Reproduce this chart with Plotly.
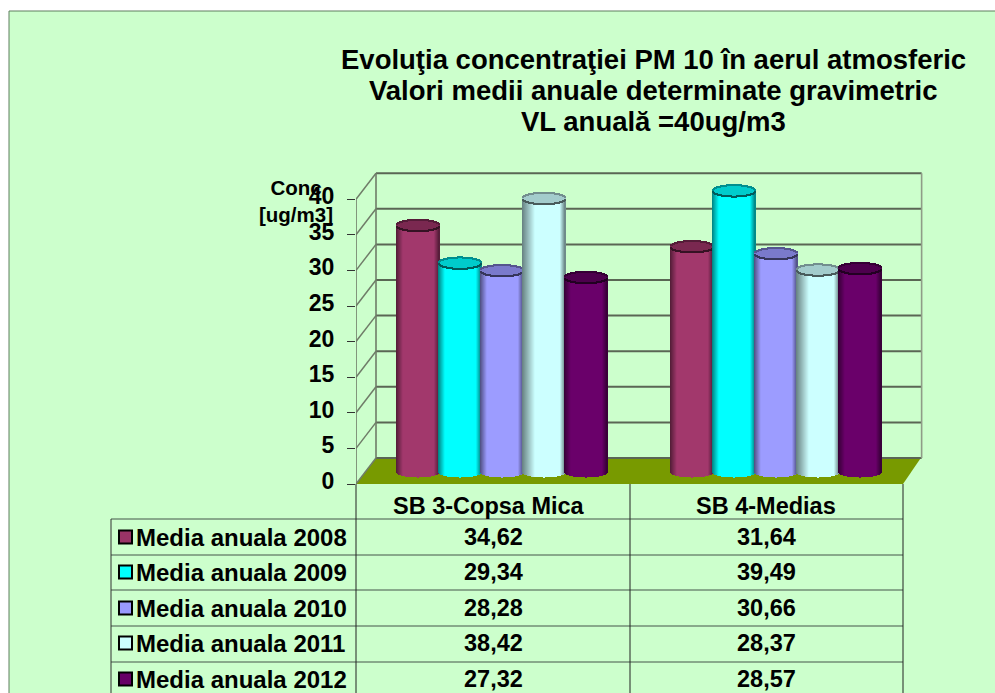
import math
import plotly.graph_objects as go

W, H = 995, 693
categories = ["SB 3-Copsa Mica", "SB 4-Medias"]
series_names = ["Media anuala 2008", "Media anuala 2009", "Media anuala 2010", "Media anuala 2011", "Media anuala 2012"]
v2008 = [34.62, 31.64]
v2009 = [29.34, 39.49]
v2010 = [28.28, 30.66]
v2011 = [38.42, 28.37]
v2012 = [27.32, 28.57]
series_values = [v2008, v2009, v2010, v2011, v2012]
body_colors = ["#993366", "#00FFFF", "#9999FF", "#CCFFFF", "#660066"]
lit_colors = ["#A2386C", "#00FFFF", "#9C9CFF", "#CCFFFF", "#6A006A"]
cap_colors = ["#7A2850", "#00CCCC", "#7A7ACC", "#A3CCCC", "#4D004D"]
y_ticks = [0, 5, 10, 15, 20, 25, 30, 35, 40]
title_lines = ["Evoluţia concentraţiei PM 10 în aerul atmosferic", "Valori medii anuale determinate gravimetric", "VL anuală =40ug/m3"]
FONT = "Liberation Sans"

# scales: pixels per data unit
XS, YS = 273.5, 7.12
PX0, PY0, PX1, PY1 = 356, 484, 932, 165
DX_BACK, DY_BACK = 20 / XS, 26 / YS
DX_MID, DY_MID = 9.5 / XS, 12 / YS
N_STRIPS = 43
HALF_W = 21.5 / XS
STEP = 42 / XS
ELL = 5.5 / YS
RIGHT = 2.0


def shade(hex_color, f):
    r, g, b = (int(hex_color[i:i + 2], 16) for i in (1, 3, 5))
    return f"rgb({int(r * f)},{int(g * f)},{int(b * f)})"


def factor(t, left):
    return min(0.5 + 0.5 * min(1, t / left), 0.5 + 0.5 * min(1, (1 - t) / 0.12))


fig = go.Figure()
for s, (name, vals) in enumerate(zip(series_names, series_values)):
    left = 0.3 if s == 3 else 0.16
    xs, bases, hs, cols, ws = [], [], [], [], []
    rim_xs, rim_bases, rim_hs, rim_cols, rim_ws = [], [], [], [], []
    cap_xs, cap_bases, cap_hs, cap_cols, cap_ws = [], [], [], [], []
    for c, v in enumerate(vals):
        center = c + 0.5 + DX_MID + (s - 2) * STEP
        for i in range(N_STRIPS):
            t = (i + 0.5) / N_STRIPS
            u = 2 * t - 1
            e = ELL * math.sqrt(1 - u * u)
            x = center + u * HALF_W
            b = DY_MID - e
            w = 1.4 / XS
            xs.append(x); bases.append(b); hs.append(v); cols.append(shade(lit_colors[s], factor(t, left))); ws.append(w)
            cap_xs.append(x); cap_bases.append(DY_MID + v - e); cap_hs.append(2 * e)
            cap_cols.append(cap_colors[s]); cap_ws.append(w)
            rim_xs += [x, x]
            rim_bases += [DY_MID + v - e - 0.1, DY_MID + v + e - 0.05]
            rim_hs += [0.2, 0.15]
            rim_cols += [shade(cap_colors[s], 0.45), shade(cap_colors[s], 0.7)]
            rim_ws += [w, w]
    fig.add_trace(go.Bar(
        name=name,
        x=xs + cap_xs + rim_xs, y=hs + cap_hs + rim_hs, base=bases + cap_bases + rim_bases,
        width=ws + cap_ws + rim_ws,
        marker=dict(color=cols + cap_cols + rim_cols, line=dict(width=0)),
        hoverinfo="skip", showlegend=False,
    ))

# walls and floor, built from the axis ticks and the depth offsets
shapes = []
WALL = "#5A6654"
WALL2 = "#6F7C68"
TOP = y_ticks[-1]


def seg(x0, y0, x1, y1, color=WALL, width=2):
    shapes.append(dict(type="line", xref="x", yref="y", x0=x0, y0=y0, x1=x1, y1=y1,
                       line=dict(color=color, width=width), layer="below"))


shapes.append(dict(type="path", xref="x", yref="y", layer="below",
                   path=f"M0,0 L{DX_BACK},{DY_BACK} L{RIGHT + DX_BACK - 0.008},{DY_BACK} L{RIGHT},0 Z",
                   fillcolor="#789A00", line=dict(width=0)))
for t in y_ticks:
    seg(DX_BACK, t + DY_BACK, RIGHT + DX_BACK - 0.005, t + DY_BACK)
    seg(0, t, DX_BACK, t + DY_BACK, WALL2, 1.5)
seg(0, 0, 0, TOP, WALL2, 1.6)
seg(DX_BACK, DY_BACK, DX_BACK, TOP + DY_BACK, WALL2, 1.6)
seg(RIGHT + DX_BACK - 0.005, DY_BACK, RIGHT + DX_BACK - 0.005, TOP + DY_BACK, "#8F9C88", 1.6)


def px(x):
    return x / W


def py(y):
    return 1 - y / H


def pline(x0, y0, x1, y1, color="#000000", width=1):
    shapes.append(dict(type="line", xref="paper", yref="paper", x0=px(x0), y0=py(y0), x1=px(x1), y1=py(y1),
                       line=dict(color=color, width=width), layer="below"))


# chart background frame
shapes.insert(0, dict(type="rect", xref="paper", yref="paper", x0=px(9), y0=py(H + 5), x1=px(W + 5), y1=py(11),
                      fillcolor="#CCFFCC", line=dict(color="#5F7F5F", width=1), layer="below"))

# data table under the plot
row_lines = [519, 555, 590, 626, 662]
row_centers = [537, 572, 608, 643, 679]
col_lines = [111, 356, 630, 903]
col_centers = [493, 766]
header_centers = [489, 766]
for y in row_lines:
    pline(col_lines[0], y, col_lines[-1], y, "#44554A", 1)
pline(col_lines[0], row_lines[0], col_lines[0], H, "#333333", 1)
for x in col_lines[1:]:
    pline(x, 484, x, H, "#222222", 1)

ann = []
for line, yc in zip(title_lines, [60, 91, 122]):
    ann.append(dict(xref="paper", yref="paper", x=px(653), y=py(yc), text=f"<b>{line}</b>", showarrow=False,
                    xanchor="center", yanchor="middle", font=dict(family=FONT, size=27.5, color="#000")))
for cname, x in zip(categories, header_centers):
    ann.append(dict(xref="paper", yref="paper", x=px(x), y=py(506), text=f"<b>{cname}</b>", showarrow=False,
                    xanchor="center", yanchor="middle", font=dict(family=FONT, size=23.5, color="#000")))
for r, (name, vals) in enumerate(zip(series_names, series_values)):
    yc = row_centers[r]
    shapes.append(dict(type="rect", xref="paper", yref="paper", x0=px(119), x1=px(132), y0=py(yc + 6.5), y1=py(yc - 6.5),
                       fillcolor=body_colors[r], line=dict(color="#000", width=2), layer="above"))
    ann.append(dict(xref="paper", yref="paper", x=px(137), y=py(yc), text=f"<b>{name}</b>", showarrow=False,
                    xanchor="left", xshift=-3, yanchor="middle", font=dict(family=FONT, size=24, color="#000")))
    for v, x in zip(vals, col_centers):
        label = f"{v:.2f}".replace(".", ",")
        ann.append(dict(xref="paper", yref="paper", x=px(x), y=py(yc), text=f"<b>{label}</b>", showarrow=False,
                        xanchor="center", yanchor="middle", font=dict(family=FONT, size=23.5, color="#000")))
ann.append(dict(xref="paper", yref="paper", x=px(296), y=py(201), text="<b>Conc<br>[ug/m3]</b>", showarrow=False,
                xanchor="center", yanchor="middle", align="center", font=dict(family=FONT, size=20.5, color="#000")))

fig.update_layout(
    width=W, height=H,
    margin=dict(l=0, r=0, t=0, b=0, autoexpand=False),
    paper_bgcolor="#FFFFFF", plot_bgcolor="rgba(0,0,0,0)",
    barmode="overlay", bargap=0,
    showlegend=False,
    xaxis=dict(domain=[px(PX0), px(PX1)], range=[0, (PX1 - PX0) / XS], visible=False, fixedrange=True, automargin=False),
    yaxis=dict(domain=[py(PY0), py(PY1)], range=[0, (PY0 - PY1) / YS], tickvals=y_ticks, ticktext=[str(t) for t in y_ticks],
               showgrid=False, zeroline=False, showline=False, ticks="outside", ticklen=8, tickwidth=1, tickcolor="#333",
               ticklabelstandoff=8, ticklabelshift=-3, tickfont=dict(family=FONT, size=23, color="#000", weight="bold"),
               fixedrange=True, automargin=False),
    shapes=shapes, annotations=ann,
)
fig.write_html("out.html", config=dict(displayModeBar=False),
               post_script="document.body.style.margin='0';document.documentElement.style.overflow='hidden';")
